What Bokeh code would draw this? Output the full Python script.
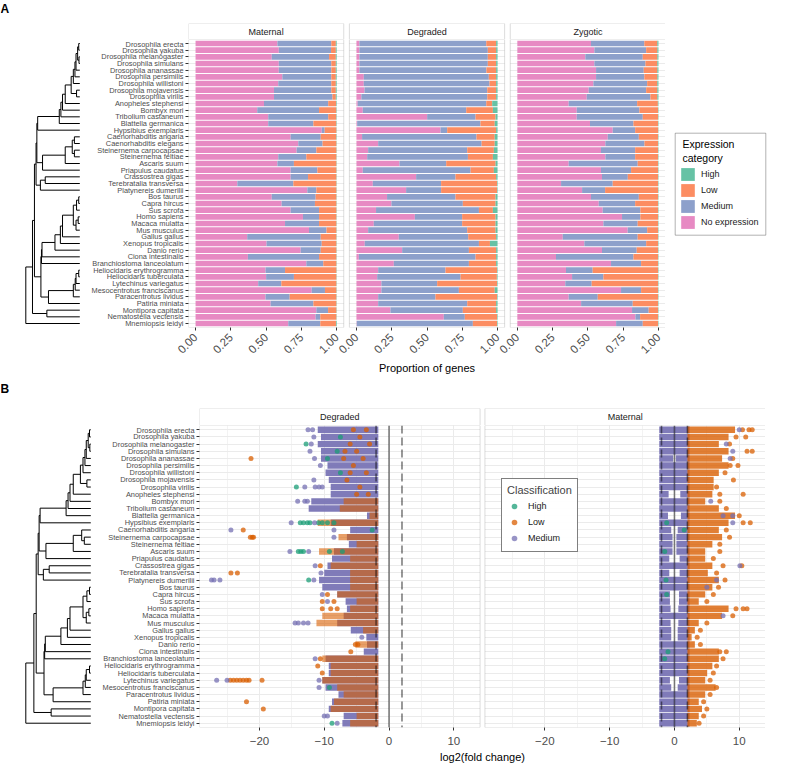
import math
from bokeh.plotting import figure
from bokeh.models import (FactorRange, Range1d, FixedTicker, BoxAnnotation, Span,
                          Legend, LegendItem)
from bokeh.layouts import row, column
from bokeh.embed import file_html
from bokeh.resources import INLINE
from bokeh.core.properties import value

FONT = "Liberation Sans"
NA = float("nan")

# ---------------------------------------------------------------- data (panel A)
species = [
    "Drosophila erecta", "Drosophila yakuba", "Drosophila melanogaster", "Drosophila simulans",
    "Drosophila ananassae", "Drosophila persimilis", "Drosophila willistoni", "Drosophila mojavensis",
    "Drosophila virilis", "Anopheles stephensi", "Bombyx mori", "Tribolium castaneum",
    "Blattella germanica", "Hypsibius exemplaris", "Caenorhabditis angaria", "Caenorhabditis elegans",
    "Steinernema carpocapsae", "Steinernema feltiae", "Ascaris suum", "Priapulus caudatus",
    "Crassostrea gigas", "Terebratalia transversa", "Platynereis dumerilii", "Bos taurus",
    "Capra hircus", "Sus scrofa", "Homo sapiens", "Macaca mulatta", "Mus musculus",
    "Gallus gallus", "Xenopus tropicalis", "Danio rerio", "Ciona intestinalis",
    "Branchiostoma lanceolatum", "Heliocidaris erythrogramma", "Heliocidaris tuberculata",
    "Lytechinus variegatus", "Mesocentrotus franciscanus", "Paracentrotus lividus",
    "Patiria miniata", "Montipora capitata", "Nematostella vectensis", "Mnemiopsis leidyi",
]
categories = ["No expression", "Medium", "Low", "High"]
legend_order_A = ["High", "Low", "Medium", "No expression"]
facets_A = ["Maternal", "Degraded", "Zygotic"]

maternal_none = [.580, .590, .540, .590, .590, .615, .586, .556, .556, .485, .437, .515, .515, .894,
                 .674, .728, .716, .586, .580, .674, .674, .296, .792, .540, .610, .674, .761, .634,
                 .804, .366, .503, .745, .371, .785, .496, .500, .444, .823, .496, .532, .856, .851, .657]
maternal_medium = [.382, .370, .406, .372, .372, .347, .376, .406, .414, .455, .438, .425, .320, .021,
                   .213, .172, .140, .199, .117, .189, .123, .397, .064, .311, .236, .201, .114, .241,
                   .124, .521, .391, .142, .504, .120, .138, .197, .164, .094, .171, .303, .083, .033, .227]
maternal_low = [.032, .034, .048, .032, .032, .032, .032, .032, .024, .056, .122, .057, .162, .083,
                .110, .098, .142, .213, .301, .135, .201, .305, .142, .147, .152, .123, .123, .123,
                .070, .111, .104, .111, .123, .093, .364, .301, .390, .081, .331, .163, .059, .114, .111]
maternal_high = [.006, .006, .006, .006, .006, .006, .006, .006, .006, .004, .003, .003, .003, .002,
                 .003, .002, .002, .002, .002, .002, .002, .002, .002, .002, .002, .002, .002, .002,
                 .002, .002, .002, .002, .002, .002, .002, .002, .002, .002, .002, .002, .002, .002, .005]

degraded_none = [.021, .021, .021, .021, .021, .052, .052, .057, .035, .009, .045, .501, .005, .596,
                 .040, .154, .083, .076, .305, .045, .423, .116, .352, .217, .248, .139, .414, .123,
                 .083, .300, .059, .324, .017, .265, .154, .147, .177, .177, .154, .154, .241, .619, .002]
degraded_medium = [.899, .910, .910, .910, .900, .886, .891, .870, .892, .911, .733, .343, .874, .047,
                   .811, .733, .702, .714, .331, .764, .279, .484, .248, .485, .506, .729, .335, .626,
                   .702, .492, .809, .473, .827, .532, .477, .591, .395, .549, .406, .631, .513, .149, .823]
degraded_low = [.070, .059, .059, .059, .069, .052, .047, .063, .063, .042, .189, .142, .101, .347,
                .129, .093, .189, .177, .350, .165, .288, .396, .396, .284, .232, .099, .237, .237,
                .201, .198, .078, .193, .146, .193, .365, .257, .424, .254, .436, .205, .236, .228, .171]
degraded_high = [.010, .010, .010, .010, .010, .010, .010, .010, .010, .038, .033, .014, .020, .010,
                 .020, .020, .026, .033, .014, .026, .010, .004, .004, .014, .014, .033, .014, .014,
                 .014, .010, .054, .010, .010, .010, .004, .005, .004, .020, .004, .010, .010, .004, .004]

zygotic_none = [.522, .546, .482, .546, .558, .558, .539, .506, .492, .364, .421, .421, .515, .676,
                .641, .624, .593, .624, .364, .593, .600, .310, .459, .522, .577, .605, .742, .610,
                .782, .322, .475, .600, .274, .664, .345, .388, .340, .735, .364, .452, .813, .837, .700]
zygotic_medium = [.378, .367, .407, .362, .338, .342, .381, .407, .451, .485, .444, .468, .308, .159,
                  .220, .277, .242, .211, .489, .213, .183, .366, .163, .339, .258, .267, .130, .243,
                  .138, .531, .438, .246, .549, .213, .189, .222, .187, .142, .206, .366, .118, .033, .189]
zygotic_low = [.092, .079, .103, .084, .096, .092, .072, .079, .049, .147, .132, .108, .174, .163,
               .136, .096, .162, .162, .144, .191, .214, .321, .375, .136, .162, .125, .125, .144,
               .077, .144, .084, .151, .174, .120, .463, .387, .470, .120, .427, .179, .066, .127, .108]
zygotic_high = [.008, .008, .008, .008, .008, .008, .008, .008, .008, .004, .003, .003, .003, .002,
                .003, .003, .003, .003, .003, .003, .003, .003, .003, .003, .003, .003, .003, .003,
                .003, .003, .003, .003, .003, .003, .003, .003, .003, .003, .003, .003, .003, .003, .003]

# ---------------------------------------------------------------- tree (node height 0 = root, 1 = tips)
def N(h, *kids):
    return (h, list(kids))

tree = N(0.0,
    N(0.124,
        N(0.16,
            N(0.19,
                N(0.205,
                    N(0.22,
                        N(0.62,
                            N(0.65,
                                N(0.68,
                                    N(0.73,
                                        N(0.84,
                                            N(0.88,
                                                N(0.91,
                                                    N(0.93,
                                                        N(0.96,
                                                            N(0.98, "Drosophila erecta", "Drosophila yakuba"),
                                                            N(0.985, "Drosophila melanogaster", "Drosophila simulans")),
                                                        "Drosophila ananassae"),
                                                    "Drosophila persimilis"),
                                                "Drosophila willistoni"),
                                            N(0.94, "Drosophila mojavensis", "Drosophila virilis")),
                                        "Anopheles stephensi"),
                                    "Bombyx mori"),
                                "Tribolium castaneum"),
                            "Blattella germanica"),
                        "Hypsibius exemplaris"),
                    N(0.31,
                        N(0.73,
                            N(0.86,
                                N(0.9, "Caenorhabditis angaria", "Caenorhabditis elegans"),
                                N(0.9, "Steinernema carpocapsae", "Steinernema feltiae")),
                            "Ascaris suum"),
                        "Priapulus caudatus")),
                N(0.27,
                    N(0.36, "Crassostrea gigas", "Terebratalia transversa"),
                    "Platynereis dumerilii")),
            N(0.28,
                N(0.29,
                    N(0.30,
                        N(0.54,
                            N(0.64,
                                N(0.68,
                                    N(0.88,
                                        N(0.94, N(0.98, "Bos taurus", "Capra hircus"), "Sus scrofa"),
                                        N(0.93, N(0.97, "Homo sapiens", "Macaca mulatta"), "Mus musculus")),
                                    "Gallus gallus"),
                                "Xenopus tropicalis"),
                            "Danio rerio"),
                        "Ciona intestinalis"),
                    "Branchiostoma lanceolatum"),
                N(0.42,
                    N(0.88,
                        N(0.915,
                            N(0.93,
                                N(0.98, "Heliocidaris erythrogramma", "Heliocidaris tuberculata"),
                                "Lytechinus variegatus"),
                            "Mesocentrotus franciscanus"),
                        "Paracentrotus lividus"),
                    "Patiria miniata"))),
        N(0.39, "Montipora capitata", "Nematostella vectensis")),
    "Mnemiopsis leidyi")

# ---------------------------------------------------------------- data (panel B)
speciesB = [s for s in species if s != "Caenorhabditis elegans"]
classes = ["High", "Low", "Medium"]
CUT = 2.0  # classification threshold on log2 fold change

deg_medium_lo = [-11.0, -10.5, -11.0, -10.5, -10.5, -9.5, -9.8, -9.3, -9.0, -9.0, -12.0, -12.4, -3.4,
                 -9.0, -6.0, -6.5, -6.2, -8.5, -8.8, -9.5, -10.0, -10.8, -10.3, -8.0, -6.7, -6.5,
                 -7.0, -8.0, -5.9, -3.5, -3.4, -3.9, -9.8, -9.3, -9.3, -10.3, -9.8, -7.8, -8.8,
                 -9.3, -7.0, -7.2]
deg_low_lo = [NA, NA, NA, NA, NA, NA, NA, NA, NA, NA, -7.0, -7.6, -3.0,
              -11.0, NA, -7.8, -5.0, -10.8, -6.0, -9.0, -6.0, -6.0, -6.0, -8.0, -5.0, -6.0,
              -10.3, -11.2, -4.0, NA, -5.2, NA, -10.3, -9.0, -9.0, -10.3, -8.0, -7.0, -8.5,
              -9.0, -5.0, -6.0]
mat_gap = [0, 0, 0, 0, 0.2, 0, 0, 0, 0, 0.9, 0, 0, 1.0, 0, 0.5, 0.3, 0.3, 0.3, 0.8, 0, 0.8, 0, 0,
           0.7, 0.7, 0.6, 0, 0.6, 0.5, 0.5, 0, 0, 0, 0, 0, 0.7, 0.5, 0, 0, 0, 0, 0]
mat_low_hi = [9.0, 8.0, 6.5, 8.0, 7.0, 8.0, 6.5, 5.7, 5.7, 5.5, 4.4, 6.5, 9.0, 8.0, 6.5, 7.0, 5.5,
              4.4, 4.4, 5.5, 4.8, 6.5, 5.5, 4.4, 3.4, 8.0, 7.0, 3.4, 2.8, 2.3, 2.8, 6.5, 6.5, 5.5,
              4.7, 4.4, 6.0, 4.4, 3.4, 3.9, 3.4, 3.1]

deg_outliers = [
    ("Drosophila erecta", -11.8, "Medium"), ("Drosophila erecta", -12.5, "Medium"),
    ("Drosophila erecta", -5.5, "Low"), ("Drosophila erecta", -3.5, "Low"),
    ("Drosophila yakuba", -11.6, "Medium"), ("Drosophila yakuba", -4.5, "Low"),
    ("Drosophila yakuba", -7.5, "High"),
    ("Drosophila melanogaster", -12.8, "High"), ("Drosophila melanogaster", -12.0, "Medium"),
    ("Drosophila melanogaster", -6.0, "Low"), ("Drosophila melanogaster", -3.0, "Low"),
    ("Drosophila simulans", -12.2, "Medium"), ("Drosophila simulans", -5.0, "Low"),
    ("Drosophila simulans", -8.0, "High"), ("Drosophila simulans", -6.8, "Low"),
    ("Drosophila ananassae", -21.3, "Low"), ("Drosophila ananassae", -11.5, "Medium"),
    ("Drosophila ananassae", -4.0, "Low"), ("Drosophila ananassae", -7.0, "Low"),
    ("Drosophila ananassae", -9.5, "High"),
    ("Drosophila persimilis", -10.6, "Medium"), ("Drosophila persimilis", -5.5, "Low"),
    ("Drosophila willistoni", -3.5, "Low"), ("Drosophila willistoni", -7.5, "High"),
    ("Drosophila willistoni", -6.0, "Low"),
    ("Drosophila mojavensis", -11.6, "Medium"), ("Drosophila mojavensis", -6.5, "Low"),
    ("Drosophila virilis", -14.3, "High"), ("Drosophila virilis", -13.0, "Medium"),
    ("Drosophila virilis", -11.4, "Medium"), ("Drosophila virilis", -10.8, "Medium"),
    ("Drosophila virilis", -10.3, "Medium"), ("Drosophila virilis", -4.5, "Low"),
    ("Anopheles stephensi", -3.2, "Low"), ("Anopheles stephensi", -5.0, "Low"),
    ("Bombyx mori", -14.1, "Medium"), ("Bombyx mori", -13.0, "Medium"), ("Bombyx mori", -12.6, "Medium"),
    ("Hypsibius exemplaris", -15.1, "Medium"), ("Hypsibius exemplaris", -13.7, "High"),
    ("Hypsibius exemplaris", -13.2, "High"), ("Hypsibius exemplaris", -12.6, "High"),
    ("Hypsibius exemplaris", -12.2, "High"), ("Hypsibius exemplaris", -11.5, "Medium"),
    ("Hypsibius exemplaris", -10.9, "High"), ("Hypsibius exemplaris", -10.3, "High"),
    ("Hypsibius exemplaris", -9.5, "High"), ("Hypsibius exemplaris", -8.5, "High"),
    ("Caenorhabditis angaria", -24.4, "Medium"), ("Caenorhabditis angaria", -22.5, "Low"),
    ("Caenorhabditis angaria", -8.5, "Medium"), ("Caenorhabditis angaria", -2.6, "High"),
    ("Steinernema carpocapsae", -21.4, "Low"), ("Steinernema carpocapsae", -21.1, "Low"),
    ("Steinernema carpocapsae", -20.9, "Low"), ("Steinernema carpocapsae", -8.5, "Medium"),
    ("Ascaris suum", -15.3, "Medium"), ("Ascaris suum", -14.0, "High"), ("Ascaris suum", -13.6, "High"),
    ("Ascaris suum", -13.2, "High"), ("Ascaris suum", -12.4, "Medium"), ("Ascaris suum", -9.2, "High"),
    ("Ascaris suum", -7.2, "High"),
    ("Crassostrea gigas", -11.4, "Medium"), ("Crassostrea gigas", -10.6, "Low"),
    ("Terebratalia transversa", -24.4, "Low"), ("Terebratalia transversa", -23.4, "Low"),
    ("Terebratalia transversa", -10.5, "Medium"),
    ("Platynereis dumerilii", -27.4, "Medium"), ("Platynereis dumerilii", -27.0, "Medium"),
    ("Platynereis dumerilii", -26.1, "Medium"), ("Platynereis dumerilii", -12.4, "High"),
    ("Platynereis dumerilii", -11.6, "Medium"),
    ("Capra hircus", -10.3, "Medium"), ("Capra hircus", -9.5, "Low"),
    ("Sus scrofa", -10.3, "Low"), ("Sus scrofa", -9.5, "Medium"), ("Sus scrofa", -8.5, "Low"),
    ("Homo sapiens", -10.3, "Low"), ("Homo sapiens", -9.0, "Low"), ("Homo sapiens", -8.0, "Low"),
    ("Mus musculus", -14.5, "Medium"), ("Mus musculus", -14.0, "Medium"),
    ("Mus musculus", -13.2, "Medium"), ("Mus musculus", -12.5, "Medium"),
    ("Xenopus tropicalis", -4.2, "Medium"), ("Danio rerio", -5.2, "Low"), ("Danio rerio", -4.8, "Low"),
    ("Ciona intestinalis", -5.9, "Low"),
    ("Branchiostoma lanceolatum", -11.4, "Medium"), ("Branchiostoma lanceolatum", -10.6, "Low"),
    ("Heliocidaris erythrogramma", -11.0, "Low"), ("Heliocidaris tuberculata", -10.3, "Low"),
    ("Lytechinus variegatus", -26.6, "Medium"), ("Lytechinus variegatus", -25.0, "Medium"),
    ("Lytechinus variegatus", -24.5, "Low"), ("Lytechinus variegatus", -24.0, "Low"),
    ("Lytechinus variegatus", -23.5, "Low"), ("Lytechinus variegatus", -23.0, "Low"),
    ("Lytechinus variegatus", -22.5, "Low"), ("Lytechinus variegatus", -22.0, "Low"),
    ("Lytechinus variegatus", -21.6, "Low"), ("Lytechinus variegatus", -19.6, "Low"),
    ("Lytechinus variegatus", -10.8, "Medium"),
    ("Mesocentrotus franciscanus", -10.8, "Medium"), ("Mesocentrotus franciscanus", -9.2, "High"),
    ("Patiria miniata", -22.0, "Low"), ("Montipora capitata", -19.4, "Low"),
    ("Nematostella vectensis", -10.0, "Medium"), ("Nematostella vectensis", -9.5, "Medium"),
    ("Mnemiopsis leidyi", -8.8, "High"), ("Mnemiopsis leidyi", -8.0, "Medium"),
]
mat_outliers = [
    ("Drosophila erecta", 11.5, "Low"), ("Drosophila erecta", 12.0, "Low"),
    ("Drosophila erecta", 10.5, "Low"), ("Drosophila erecta", 10.0, "Medium"),
    ("Drosophila yakuba", 9.5, "Low"), ("Drosophila yakuba", 11.0, "Low"),
    ("Drosophila melanogaster", 8.0, "Medium"), ("Drosophila melanogaster", 8.5, "Low"),
    ("Drosophila simulans", 11.2, "Low"), ("Drosophila simulans", 12.0, "Low"),
    ("Drosophila simulans", 9.0, "Medium"), ("Drosophila ananassae", 9.0, "Low"),
    ("Drosophila ananassae", 8.6, "Medium"), ("Drosophila persimilis", 8.6, "Low"),
    ("Drosophila persimilis", 9.8, "Low"), ("Drosophila willistoni", 7.8, "Low"),
    ("Drosophila mojavensis", 9.1, "Low"), ("Drosophila virilis", 6.5, "Low"),
    ("Anopheles stephensi", 10.6, "Low"), ("Anopheles stephensi", 7.0, "Low"),
    ("Bombyx mori", 7.0, "Low"), ("Bombyx mori", 5.6, "Medium"), ("Tribolium castaneum", 8.0, "Low"),
    ("Blattella germanica", 10.0, "Low"), ("Blattella germanica", 9.0, "Medium"),
    ("Blattella germanica", 7.5, "Medium"),
    ("Hypsibius exemplaris", 11.7, "Low"), ("Hypsibius exemplaris", 10.6, "Low"),
    ("Hypsibius exemplaris", 9.0, "Medium"), ("Hypsibius exemplaris", -1.2, "High"),
    ("Caenorhabditis angaria", 8.0, "Low"), ("Caenorhabditis angaria", 1.5, "High"),
    ("Steinernema carpocapsae", 8.5, "Low"), ("Steinernema feltiae", 7.0, "Low"),
    ("Ascaris suum", 7.0, "Low"), ("Ascaris suum", -1.5, "High"), ("Priapulus caudatus", 6.0, "Low"),
    ("Crassostrea gigas", 10.1, "Medium"), ("Crassostrea gigas", 10.4, "Low"),
    ("Crassostrea gigas", 7.5, "Low"), ("Terebratalia transversa", 6.5, "Low"),
    ("Platynereis dumerilii", 7.8, "Low"), ("Platynereis dumerilii", 6.5, "Medium"),
    ("Platynereis dumerilii", -1.3, "High"), ("Bos taurus", 6.8, "Low"), ("Bos taurus", 5.0, "Medium"),
    ("Capra hircus", 6.0, "Low"), ("Capra hircus", -1.2, "High"), ("Sus scrofa", 5.0, "Low"),
    ("Homo sapiens", 11.2, "Low"), ("Homo sapiens", 10.6, "Low"), ("Homo sapiens", 9.5, "Low"),
    ("Macaca mulatta", 9.0, "Low"), ("Macaca mulatta", 7.5, "Medium"), ("Mus musculus", 5.0, "Low"),
    ("Gallus gallus", 4.0, "Low"), ("Xenopus tropicalis", 3.5, "Low"), ("Danio rerio", 4.0, "Low"),
    ("Ciona intestinalis", 8.0, "Low"), ("Ciona intestinalis", 7.0, "Low"),
    ("Ciona intestinalis", -1.0, "High"), ("Branchiostoma lanceolatum", 7.5, "Low"),
    ("Branchiostoma lanceolatum", -1.5, "High"), ("Heliocidaris erythrogramma", 6.5, "Low"),
    ("Heliocidaris tuberculata", 6.0, "Low"), ("Lytechinus variegatus", 5.5, "Low"),
    ("Mesocentrotus franciscanus", 6.5, "Low"), ("Paracentrotus lividus", 5.5, "Low"),
    ("Patiria miniata", 4.5, "Low"), ("Montipora capitata", 5.0, "Low"),
    ("Nematostella vectensis", 4.5, "Low"), ("Mnemiopsis leidyi", 3.8, "Low"),
]

# ---------------------------------------------------------------- styles / layout constants
COL_A = {"No expression": "#e78ac3", "Medium": "#8da0cb", "Low": "#fc8d62", "High": "#66c2a5"}
COL_B = {"High": "#1b9e77", "Low": "#d95f02", "Medium": "#7570b3"}
BORDER = "#8a8a8a"
GRID = "#ebebeb"
TXT = "#4d4d4d"

OFF_A = {"Maternal": 0.0, "Degraded": 1.14, "Zygotic": 2.28}
LIM_A = (-0.05, 1.05)
OFF_B = {"Degraded": 0.0, "Maternal": 44.05}
LIM_B = (-29.25, 14.05)

TOP_H = 380
A_STRIP_TOP, A_STRIP_H, A_FRAME_H = 23, 16, 288
A_DEND_W, A_LEFT, A_FRAME_W, A_LEG_W = 88, 100, 477, 106
B_DEND_H = 370
B_STRIP_TOP, B_STRIP_H, B_FRAME_H = 28, 17, 302
B_DEND_W, B_LEFT, B_FRAME_W = 96, 103, 566


def fig(**kw):
    p = figure(output_backend="svg", toolbar_location=None, **kw)
    p.outline_line_color = None
    return p


def prune(node, keep):
    if isinstance(node, str):
        return node if node in keep else None
    h, kids = node
    kids = [k for k in (prune(k, keep) for k in kids) if k is not None]
    if not kids:
        return None
    if len(kids) == 1:
        return kids[0]
    return (h, kids)


def tree_segments(node, ypos, parent_h, segs):
    if isinstance(node, str):
        y = ypos[node]
        segs.append((parent_h, y, 1.0, y))
        return y
    h, kids = node
    ys = [tree_segments(k, ypos, h, segs) for k in kids]
    segs.append((h, min(ys), h, max(ys)))
    y = (min(ys) + max(ys)) / 2
    if parent_h is not None:
        segs.append((parent_h, y, h, y))
    return y


def dendrogram(names, node, width, height, frame_top, frame_h, x_root_px, x_tip_px):
    n = len(names)
    ppu = frame_h / (n + 0.2)
    y_top = n + 0.1 + frame_top / ppu
    y_bot = -0.1 - (height - frame_top - frame_h) / ppu
    span = x_tip_px - x_root_px
    p = fig(frame_width=width, frame_height=height, min_border=0,
            x_range=Range1d(-x_root_px / span, (width - x_root_px) / span),
            y_range=Range1d(y_bot, y_top), x_axis_location=None, y_axis_location=None)
    p.grid.visible = False
    ypos = {s: n - i - 0.5 for i, s in enumerate(names)}
    segs = []
    tree_segments(node, ypos, None, segs)
    p.segment(x0=[s[0] for s in segs], y0=[s[1] for s in segs], x1=[s[2] for s in segs],
              y1=[s[3] for s in segs], line_color="black", line_width=1)
    px2x = lambda px: (px - x_root_px) / span
    px2y = lambda py: y_top - py / ppu
    return p, px2x, px2y


def panel_letter(p, px2x, px2y, letter):
    p.text(x=[px2x(0)], y=[px2y(1.5)], text=[letter], text_align="left", text_baseline="top",
           text_font=value(FONT), text_font_size="12px", text_font_style="bold", text_color="black")


def strip(x_range, left, frame_w, top, h, offs, lims, size):
    p = fig(x_range=x_range, y_range=Range1d(0, 1), frame_width=frame_w, frame_height=h,
            min_border_left=left, min_border_right=0, min_border_top=top, min_border_bottom=0,
            x_axis_location=None, y_axis_location=None)
    p.grid.visible = False
    for name, off in offs.items():
        p.add_layout(BoxAnnotation(left=off + lims[0], right=off + lims[1], fill_color="white",
                                   fill_alpha=1, line_color=BORDER, line_width=1, level="underlay"))
    p.text(x=[off + (lims[0] + lims[1]) / 2 for off in offs.values()], y=[0.5] * len(offs),
           text=list(offs.keys()), text_align="center", text_baseline="middle",
           text_font=value(FONT), text_font_size=size, text_color="#1a1a1a")
    return p


def frame_boxes(p, offs, lims):
    names = list(offs.keys())
    for a, b in zip(names[:-1], names[1:]):
        p.add_layout(BoxAnnotation(left=offs[a] + lims[1], right=offs[b] + lims[0],
                                   fill_color="white", fill_alpha=1, line_alpha=0))
    for nm in names:
        p.add_layout(BoxAnnotation(left=offs[nm] + lims[0], right=offs[nm] + lims[1],
                                   fill_alpha=0, line_color=BORDER, line_width=1))


def style_axes(p, tick_size, label_size):
    for ax in (p.xaxis, p.yaxis):
        ax.axis_line_color = None
        ax.major_tick_line_color = "#333333"
        ax.major_tick_in = 0
        ax.major_tick_out = 3
        ax.minor_tick_line_color = None
        ax.major_label_text_font = FONT
        ax.major_label_text_color = TXT
        ax.axis_label_text_font = FONT
        ax.axis_label_text_font_style = "normal"
        ax.axis_label_text_font_size = label_size
        ax.axis_label_text_color = "black"
    p.yaxis.major_label_text_font_size = "7.4px"
    p.yaxis.major_label_standoff = 2
    p.xaxis.major_label_text_font_size = tick_size


# ================================================================ panel A
pA = fig(y_range=FactorRange(factors=species[::-1], range_padding=0.1, range_padding_units="absolute"),
         x_range=Range1d(OFF_A["Maternal"] + LIM_A[0], OFF_A["Zygotic"] + LIM_A[1]),
         frame_width=A_FRAME_W, frame_height=A_FRAME_H, min_border_left=A_LEFT,
         min_border_top=0, min_border_right=0, min_border_bottom=10)
pA.xgrid.visible = False
pA.ygrid.grid_line_color = GRID

valsA = {"Maternal": [maternal_none, maternal_medium, maternal_low, maternal_high],
         "Degraded": [degraded_none, degraded_medium, degraded_low, degraded_high],
         "Zygotic": [zygotic_none, zygotic_medium, zygotic_low, zygotic_high]}
for ci, cat in enumerate(categories):
    ys, lefts, rights = [], [], []
    for f in facets_A:
        v = valsA[f]
        for i, sp in enumerate(species):
            start = sum(v[k][i] for k in range(ci))
            ys.append(sp)
            lefts.append(OFF_A[f] + start)
            rights.append(OFF_A[f] + start + v[ci][i])
    pA.hbar(y=ys, left=lefts, right=rights, height=0.85, fill_color=COL_A[cat], line_color=None)
frame_boxes(pA, OFF_A, LIM_A)

ticksA_base = [0.0, 0.25, 0.5, 0.75, 1.0]
ticksA = [round(OFF_A[f] + t, 4) for f in facets_A for t in ticksA_base]
pA.xaxis.ticker = FixedTicker(ticks=ticksA)
pA.xaxis.major_label_overrides = {round(OFF_A[f] + t, 4): f"{t:.2f}" for f in facets_A for t in ticksA_base}
style_axes(pA, "11.5px", "11px")
pA.xaxis.major_label_orientation = math.pi / 4
pA.xaxis.axis_label = "Proportion of genes"
pA.xaxis.axis_label_standoff = 2

# legend of panel A, in its own narrow figure (pixel coordinates, y down)
pL = fig(frame_width=A_LEG_W, frame_height=TOP_H, min_border=0, x_range=Range1d(0, A_LEG_W),
         y_range=Range1d(TOP_H, 0), x_axis_location=None, y_axis_location=None)
pL.grid.visible = False
pL.add_layout(BoxAnnotation(left=9.7, right=100.3, top=132.7, bottom=234.7, fill_color="white",
                            fill_alpha=1, line_color="black", line_width=1, level="underlay"))
pL.text(x=[17, 17], y=[143.7, 157.0], text=["Expression", "category"], text_align="left",
        text_baseline="middle", text_font=value(FONT), text_font_size="10.5px", text_color="black")
# hidden copies of the Maternal bars only serve as legend keys
keysA = {}
for ci, cat in enumerate(categories):
    keysA[cat] = pL.hbar(y=list(range(len(species))), left=0, right=valsA["Maternal"][ci], height=0.85,
                         fill_color=COL_A[cat], line_color=None, visible=False)
legA = Legend(items=[LegendItem(label=c, renderers=[keysA[c]]) for c in legend_order_A],
              location=(14, TOP_H - 230), padding=0, spacing=0, margin=0,
              glyph_width=17, glyph_height=16, label_standoff=5, label_height=16,
              label_text_font=FONT, label_text_font_size="9px", label_text_color="#1a1a1a",
              border_line_color=None, background_fill_alpha=0)
pL.add_layout(legA)

sA = strip(pA.x_range, A_LEFT, A_FRAME_W, A_STRIP_TOP, A_STRIP_H, OFF_A, LIM_A, "9px")
dA, a_px2x, a_px2y = dendrogram(species, tree, A_DEND_W, TOP_H, A_STRIP_TOP + A_STRIP_H, A_FRAME_H, 25.3, 79.3)
panel_letter(dA, a_px2x, a_px2y, "A")

# ================================================================ panel B
pB = fig(y_range=FactorRange(factors=speciesB[::-1], range_padding=0.1, range_padding_units="absolute"),
         x_range=Range1d(OFF_B["Degraded"] + LIM_B[0], OFF_B["Maternal"] + LIM_B[1]),
         frame_width=B_FRAME_W, frame_height=B_FRAME_H, min_border_left=B_LEFT,
         min_border_top=0, min_border_right=0, min_border_bottom=10)
pB.ygrid.grid_line_color = GRID
major_B = [OFF_B[f] + t for f in OFF_B for t in (-20.0, -10.0, 0.0, 10.0)]
minor_B = [OFF_B[f] + t for f in OFF_B for t in (-25.0, -15.0, -5.0, 5.0)]
tickerB = FixedTicker(ticks=major_B, minor_ticks=minor_B)
pB.xaxis.ticker = tickerB
pB.xgrid.ticker = tickerB
pB.xgrid.grid_line_color = GRID
pB.xgrid.minor_grid_line_color = GRID
pB.xgrid.minor_grid_line_width = 0.6
pB.xaxis.major_label_overrides = {OFF_B[f] + t: ("\u2212" if t < 0 else "") + str(int(abs(t)))
                                  for f in OFF_B for t in (-20.0, -10.0, 0.0, 10.0)}
style_axes(pB, "11.5px", "11px")
pB.xaxis.axis_label = "log2(fold change)"
pB.xaxis.axis_label_standoff = 3

PAD = 0.35
BAND = 0.9
offD, offM = OFF_B["Degraded"], OFF_B["Maternal"]
pB.hbar(y=speciesB, left=[offD + v for v in deg_medium_lo], right=offD - CUT + PAD, height=BAND,
        fill_color=COL_B["Medium"], fill_alpha=0.92, line_color=None)
pB.hbar(y=speciesB, left=[offD + v for v in deg_low_lo], right=offD - CUT + PAD, height=BAND,
        fill_color=COL_B["Low"], fill_alpha=0.6, line_color=None)
pB.hbar(y=speciesB, left=offM - CUT - PAD, right=[offM - g for g in mat_gap], height=BAND,
        fill_color=COL_B["Medium"], fill_alpha=0.92, line_color=None)
pB.hbar(y=speciesB, left=[offM + g for g in mat_gap], right=offM + CUT + PAD, height=BAND,
        fill_color=COL_B["Medium"], fill_alpha=0.92, line_color=None)
pB.hbar(y=speciesB, left=offM + CUT, right=[offM + v + PAD for v in mat_low_hi], height=BAND,
        fill_color=COL_B["Low"], fill_alpha=0.8, line_color=None)

rendB = {}
for cls in classes:
    xs, ys = [], []
    for off, pts in ((offD, deg_outliers), (offM, mat_outliers)):
        for sp, x, c in pts:
            if c == cls:
                xs.append(off + x)
                ys.append(sp)
    rendB[cls] = pB.scatter(x=xs, y=ys, size=5, fill_color=COL_B[cls], line_color=None, fill_alpha=0.75)

for off in OFF_B.values():
    for v, dash in ((-CUT, "8 4"), (0.0, "solid"), (CUT, "8 4")):
        pB.add_layout(Span(location=off + v, dimension="height", line_color="black",
                           line_alpha=0.5, line_width=1.6, line_dash=dash))
frame_boxes(pB, OFF_B, LIM_B)

legB = Legend(items=[LegendItem(label=c, renderers=[rendB[c]]) for c in classes],
              location=(302, 175), title="Classification", padding=5, spacing=0,
              glyph_width=14, glyph_height=16, label_standoff=7, label_height=16,
              label_text_font=FONT, label_text_font_size="9px", label_text_color="#1a1a1a",
              title_text_font=FONT, title_text_font_size="11px", title_text_font_style="normal",
              title_standoff=2, border_line_color="black", border_line_width=1)
pB.add_layout(legB)

sB = strip(pB.x_range, B_LEFT, B_FRAME_W, B_STRIP_TOP, B_STRIP_H, OFF_B, LIM_B, "9px")
dB, b_px2x, b_px2y = dendrogram(speciesB, prune(tree, set(speciesB)), B_DEND_W, B_DEND_H,
                                B_STRIP_TOP + B_STRIP_H, B_FRAME_H, 25.3, 90.3)
panel_letter(dB, b_px2x, b_px2y, "B")

layout = column(row(dA, column(sA, pA), pL), row(dB, column(sB, pB)))
open("out.html", "w").write(file_html(layout, INLINE))
